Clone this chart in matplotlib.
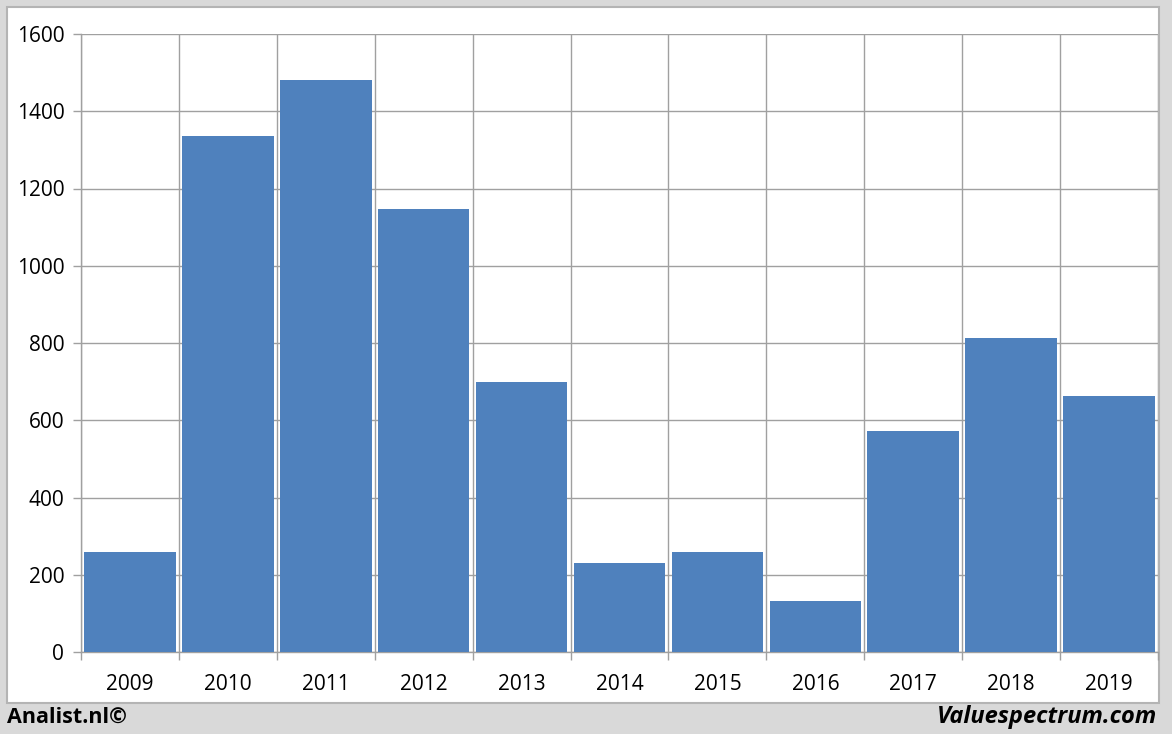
import matplotlib
matplotlib.use("Agg")
import matplotlib.pyplot as plt
from matplotlib.patches import Rectangle
import numpy as np

years = ["2009", "2010", "2011", "2012", "2013", "2014", "2015", "2016", "2017", "2018", "2019"]
values = [259, 1336, 1481, 1147, 699, 230, 259, 132, 572, 813, 663]
yticks = [0, 200, 400, 600, 800, 1000, 1200, 1400, 1600]

W, H = 1172, 734
fig = plt.figure(figsize=(W / 100, H / 100), dpi=100, facecolor="#D9D9D9")
plt.rcParams['font.family'] = ['Open Sans', 'DejaVu Sans']

# white panel
bg = fig.add_axes([0, 0, 1, 1], zorder=-10)
bg.set_xlim(0, W)
bg.set_ylim(H, 0)
bg.axis('off')
bg.add_patch(Rectangle((7, 7), 1159 - 7, 703 - 7, facecolor="white",
                       edgecolor="#B4B4B4", linewidth=1.5))

ax = fig.add_axes([81 / W, 1 - 652 / H, (1158 - 81) / W, (652 - 34) / H], zorder=1)
ax.set_facecolor("none")
x = np.arange(len(years))
ax.bar(x, values, width=0.935, color="#4F81BD", zorder=3)

ax.set_xlim(-0.5, len(years) - 0.5)
ax.set_ylim(0, 1600)
ax.set_yticks(yticks)
ax.set_yticklabels([str(v) for v in yticks], fontsize=15)
ax.set_xticks(x)
ax.set_xticklabels(years, fontsize=15)
ax.tick_params(axis='x', which='major', length=0, pad=16)
ax.set_xticks(np.arange(-0.5, len(years) + 0.5, 1), minor=True)
ax.tick_params(axis='x', which='minor', length=6, color="#A0A0A0", width=1)
ax.tick_params(axis='y', length=6, color="#A0A0A0", width=1, pad=6)

ax.grid(axis='y', which='major', color="#A0A0A0", linewidth=1, zorder=1)
ax.grid(axis='x', which='minor', color="#A0A0A0", linewidth=1, zorder=1)
ax.grid(axis='x', which='major', visible=False)
for s in ax.spines.values():
    s.set_color("#A0A0A0")
    s.set_linewidth(1)
ax.spines['top'].set_visible(False)
ax.spines['right'].set_visible(False)

fig.text(7 / W, 1 - 717 / H, "Analist.nl©", fontsize=15.5, fontweight='bold',
         ha='left', va='center', color="black")
fig.text(1157 / W, 1 - 717 / H, "Valuespectrum.com", fontsize=17, fontweight='bold',
         fontstyle='italic', ha='right', va='center', color="black")

fig.savefig("out.png", dpi=100, facecolor=fig.get_facecolor())
